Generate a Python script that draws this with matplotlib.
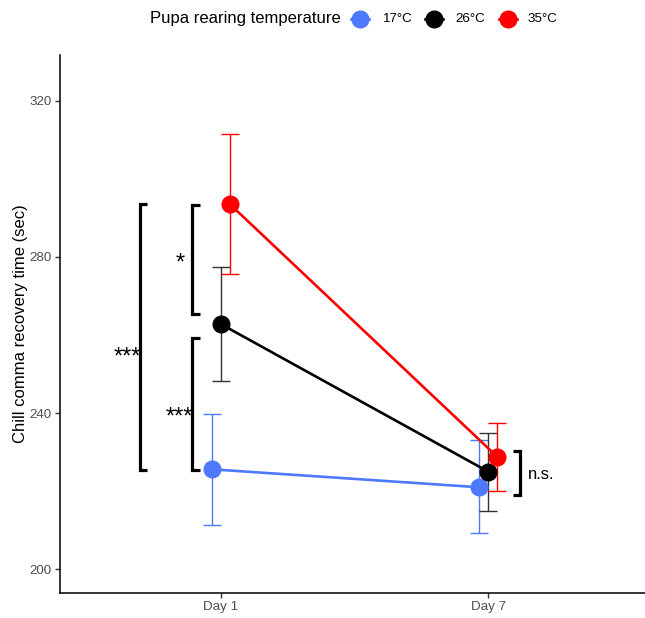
import matplotlib
matplotlib.use("Agg")
import matplotlib.pyplot as plt
from matplotlib.lines import Line2D

plt.rcParams['font.family'] = ['Liberation Sans', 'DejaVu Sans']

# ---- data ----
days = ["Day 1", "Day 7"]
groups = ["17°C", "26°C", "35°C"]
colors = ["#4D79FF", "#000000", "#FF0000"]
err_colors = ["#4D79FF", "#333333", "#FF0000"]
mean_17 = [225.6, 221.0]
mean_26 = [262.8, 225.0]
mean_35 = [293.5, 228.8]
low_17 = [211.4, 209.2]
low_26 = [248.3, 214.9]
low_35 = [275.5, 220.1]
high_17 = [239.8, 233.1]
high_26 = [277.3, 234.8]
high_35 = [311.5, 237.5]
yticks = [200, 240, 280, 320]

means = [mean_17, mean_26, mean_35]
lows = [low_17, low_26, low_35]
highs = [high_17, high_26, high_35]
dodge = [-0.034, 0.0, 0.034]

W, H = 645, 618
fig = plt.figure(figsize=(W / 100, H / 100), dpi=100)
ax = fig.add_axes([60.3 / W, 25.3 / H, (648.7 - 60.3) / W, (592.7 - 55) / H])

xbase = [1, 2]
for i in range(3):
    xs = [x + dodge[i] for x in xbase]
    yerr = [[m - l for m, l in zip(means[i], lows[i])],
            [h - m for m, h in zip(means[i], highs[i])]]
    ax.errorbar(xs, means[i], yerr=yerr, fmt='none', ecolor=err_colors[i],
                elinewidth=1.0, capsize=6.2, capthick=1.0, zorder=2)
for i in range(3):
    xs = [x + dodge[i] for x in xbase]
    ax.plot(xs, means[i], color=colors[i], lw=1.9, zorder=3)
for i in range(3):
    xs = [x + dodge[i] for x in xbase]
    ax.plot(xs, means[i], 'o', color=colors[i], ms=12, mec=colors[i], zorder=4)

# significance brackets
def bracket(x, y0, y1, tick, lw=2.3):
    ax.plot([x + tick, x, x, x + tick], [y0, y0, y1, y1], color='black',
            lw=lw, solid_joinstyle='miter', solid_capstyle='butt', zorder=5,
            clip_on=False)

bracket(0.697, 293.5, 225.3, 0.028)
bracket(0.894, 293.3, 265.4, 0.028)
bracket(0.894, 259.3, 225.3, 0.028)
bracket(2.119, 230.3, 219.0, -0.028)

ax.text(0.700, 252.6, "***", ha='right', va='baseline', fontsize=17)
ax.text(0.897, 237.4, "***", ha='right', va='baseline', fontsize=17)
ax.text(0.849, 276.8, "*", ha='center', va='baseline', fontsize=17)
ax.text(2.150, 223.0, "n.s.", ha='left', va='baseline', fontsize=12)

ax.set_xlim(0.4, 2.6)
ax.set_ylim(194.0, 331.7)
ax.set_xticks(xbase)
ax.set_xticklabels(days)
ax.set_yticks(yticks)
ax.tick_params(axis='both', colors='#333333', labelcolor='#4D4D4D',
               labelsize=9.6, length=3.5, width=1.0, pad=2.5)
for s in ['top', 'right']:
    ax.spines[s].set_visible(False)
for s in ['left', 'bottom']:
    ax.spines[s].set_linewidth(1.1)
    ax.spines[s].set_color('black')
ax.set_ylabel("Chill comma recovery time (sec)", fontsize=12, labelpad=1.5)

# legend (top)
ly = 1 - 19 / H
fig.text(150 / W, ly, "Pupa rearing temperature", fontsize=12,
         ha='left', va='center')
key_x = [360, 434, 507.7]
lab_x = [383, 455, 528]
for i in range(3):
    fig.add_artist(Line2D([(key_x[i] - 9) / W, (key_x[i] + 9) / W], [ly, ly],
                          transform=fig.transFigure, color=colors[i], lw=1.9))
    fig.add_artist(Line2D([key_x[i] / W], [ly], transform=fig.transFigure,
                          marker='o', ms=12, color=colors[i], lw=0))
    fig.text(lab_x[i] / W, ly, groups[i], fontsize=9.6, ha='left',
             va='center', color='black')

fig.savefig("out.png", dpi=100)
